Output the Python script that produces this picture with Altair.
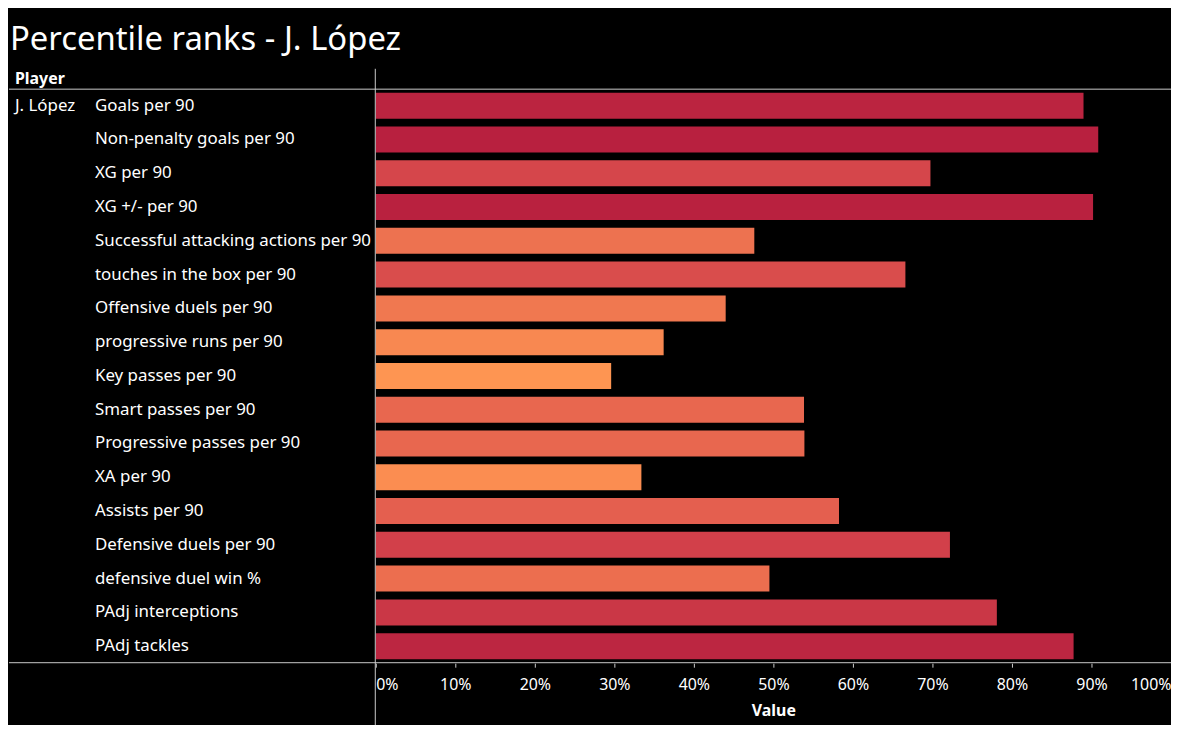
import altair as alt
import pandas as pd

TITLE = "Percentile ranks - J. López"
PLAYER = "J. López"
METRICS = [
    "Goals per 90",
    "Non-penalty goals per 90",
    "XG per 90",
    "XG +/- per 90",
    "Successful attacking actions per 90",
    "touches in the box per 90",
    "Offensive duels per 90",
    "progressive runs per 90",
    "Key passes per 90",
    "Smart passes per 90",
    "Progressive passes per 90",
    "XA per 90",
    "Assists per 90",
    "Defensive duels per 90",
    "defensive duel win %",
    "PAdj interceptions",
    "PAdj tackles",
]
VALUES = [89.0, 90.85, 69.75, 90.2, 47.6, 66.6, 44.0, 36.2, 29.6,
          53.85, 53.9, 33.4, 58.25, 72.2, 49.5, 78.1, 87.75]

df = pd.DataFrame({"Metric": METRICS, "Value": [v / 100 for v in VALUES]})

FONT = "Noto Sans"
W, H = 800, 578

yscale = alt.Scale(domain=METRICS, paddingInner=0.23, paddingOuter=0.12)

bars = alt.Chart(df).mark_bar().encode(
    y=alt.Y("Metric:N", sort=METRICS, scale=yscale,
            axis=alt.Axis(title=None, domain=False, ticks=False,
                          labelAlign="left", labelPadding=283, labelLimit=400,
                          labelFontSize=17, labelColor="white", labelFont=FONT)),
    x=alt.X("Value:Q", scale=alt.Scale(domain=[0, 1], nice=False),
            axis=alt.Axis(format=".0%", values=[i / 10 for i in range(11)],
                          title="Value", titleFont=FONT, titleFontSize=16,
                          titleFontWeight="bold", titleColor="white", titlePadding=11,
                          labelFont=FONT, labelFontSize=16, labelColor="white",
                          labelFlush=True, labelPadding=9, domain=False,
                          tickColor="#cccccc", tickSize=4, grid=False)),
    color=alt.Color("Value:Q", legend=None,
                    scale=alt.Scale(domain=[0.296, 0.44, 0.5825, 0.722, 0.9085],
                                    range=["#fe9552", "#f07850", "#e45f4f", "#d2404a", "#b8203f"])),
)

player_df = pd.DataFrame({"Metric": [METRICS[0]], "player": [PLAYER]})
player = alt.Chart(player_df).mark_text(align="left", baseline="middle", font=FONT,
                                        fontSize=17, color="white").encode(
    y=alt.Y("Metric:N", sort=METRICS, scale=yscale),
    x=alt.value(-363),
    text="player:N",
)

title_df = pd.DataFrame({"t": [TITLE]})
title = alt.Chart(title_df).mark_text(align="left", baseline="alphabetic", font=FONT,
                                      fontSize=33, color="white").encode(
    x=alt.value(-368), y=alt.value(-39), text="t:N")

head_df = pd.DataFrame({"t": ["Player"]})
header = alt.Chart(head_df).mark_text(align="left", baseline="alphabetic", font=FONT,
                                      fontSize=16, fontWeight="bold", color="white").encode(
    x=alt.value(-363), y=alt.value(-5), text="t:N")

line_df = pd.DataFrame({"k": [0]})
hline_top = alt.Chart(line_df).mark_rule(color="#cccccc", strokeWidth=1).encode(
    x=alt.value(-369), x2=alt.value(W + 2), y=alt.value(0.5))
hline_bot = alt.Chart(line_df).mark_rule(color="#cccccc", strokeWidth=1).encode(
    x=alt.value(-369), x2=alt.value(W + 2), y=alt.value(H - 0.5))
vline = alt.Chart(line_df).mark_rule(color="#cccccc", strokeWidth=1).encode(
    x=alt.value(-0.5), y=alt.value(-20), y2=alt.value(H + 72))

chart = alt.layer(bars, player, title, header, hline_top, hline_bot, vline).properties(
    width=W, height=H,
    background="black",
    padding={"left": 370, "top": 79, "right": 0, "bottom": 60},
    autosize=alt.AutoSizeParams(type="none"),
).configure_view(stroke=None)

chart.save("out.html", embed_options={"renderer": "svg", "actions": False})
